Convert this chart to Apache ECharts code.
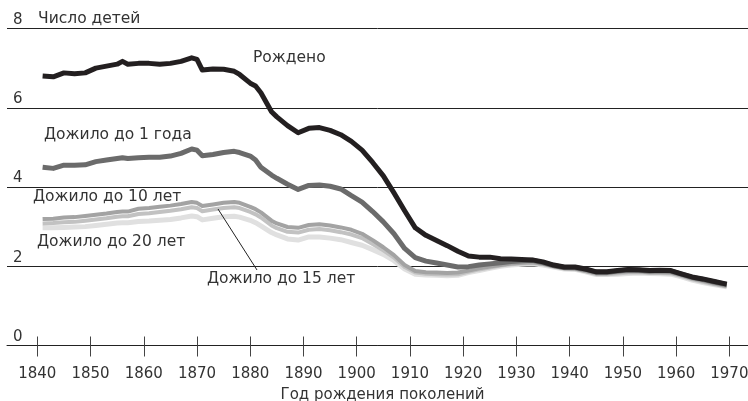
<!DOCTYPE html>
<html>
<head>
<meta charset="utf-8">
<script src="https://cdn.jsdelivr.net/npm/echarts@6/dist/echarts.min.js"></script>
<style>
html,body{margin:0;padding:0;background:#fff;}
#chart{width:748px;height:401px;}
</style>
</head>
<body>
<div id="chart"></div>
<script>
// ---- data ----
const years = [1841,1843,1845,1847,1849,1851,1853,1855,1856,1857,1859,1861,1863,1865,1867,1869,1870,1871,1873,1875,1877,1878,1880,1881,1882,1884,1885,1887,1889,1891,1893,1895,1897,1899,1901,1903,1905,1907,1909,1911,1913,1915,1917,1919,1921,1923,1925,1927,1929,1931,1933,1935,1937,1939,1941,1943,1945,1947,1949,1951,1953,1955,1957,1959,1961,1963,1965,1967,1969.5];

const born = [6.80,6.78,6.88,6.86,6.88,7.00,7.05,7.10,7.17,7.10,7.12,7.12,7.10,7.12,7.17,7.26,7.22,6.95,6.98,6.97,6.92,6.84,6.62,6.55,6.38,5.90,5.77,5.55,5.37,5.48,5.50,5.43,5.32,5.15,4.93,4.62,4.28,3.85,3.40,2.97,2.78,2.65,2.52,2.38,2.26,2.23,2.23,2.19,2.18,2.17,2.16,2.11,2.03,1.98,1.98,1.93,1.86,1.86,1.89,1.92,1.91,1.89,1.90,1.89,1.81,1.73,1.68,1.62,1.55];

const age1 = [4.50,4.47,4.55,4.55,4.56,4.64,4.68,4.72,4.74,4.72,4.74,4.75,4.75,4.78,4.85,4.96,4.93,4.79,4.82,4.87,4.90,4.87,4.78,4.68,4.50,4.30,4.22,4.07,3.94,4.04,4.05,4.02,3.95,3.78,3.62,3.38,3.12,2.82,2.45,2.22,2.13,2.08,2.03,1.98,1.99,2.03,2.06,2.09,2.12,2.14,2.15,2.09,2.02,1.97,1.97,1.92,1.85,1.85,1.88,1.91,1.90,1.88,1.89,1.88,1.80,1.72,1.67,1.61,1.54];

const age10 = [3.19,3.20,3.23,3.24,3.27,3.30,3.33,3.37,3.38,3.38,3.45,3.47,3.50,3.53,3.57,3.62,3.60,3.52,3.56,3.60,3.62,3.60,3.50,3.44,3.36,3.15,3.08,2.99,2.97,3.04,3.06,3.03,2.98,2.92,2.82,2.66,2.48,2.28,2.03,1.88,1.85,1.84,1.83,1.84,1.89,1.95,1.99,2.03,2.07,2.09,2.10,2.06,2.00,1.95,1.94,1.88,1.82,1.82,1.85,1.87,1.87,1.85,1.85,1.84,1.77,1.69,1.63,1.57,1.50];

const age15 = [3.08,3.09,3.11,3.12,3.15,3.18,3.21,3.25,3.26,3.26,3.32,3.34,3.37,3.40,3.44,3.49,3.47,3.39,3.43,3.47,3.49,3.47,3.37,3.31,3.23,3.03,2.96,2.87,2.85,2.92,2.94,2.91,2.86,2.80,2.71,2.56,2.40,2.22,1.98,1.84,1.81,1.80,1.79,1.80,1.86,1.92,1.97,2.02,2.05,2.07,2.08,2.05,1.99,1.94,1.93,1.87,1.80,1.80,1.82,1.84,1.85,1.83,1.83,1.82,1.75,1.67,1.61,1.55,1.49];

const age20 = [2.97,2.97,2.98,2.99,3.00,3.03,3.06,3.09,3.10,3.10,3.13,3.14,3.16,3.18,3.22,3.27,3.25,3.17,3.21,3.25,3.26,3.24,3.16,3.10,3.02,2.85,2.79,2.69,2.66,2.74,2.74,2.71,2.67,2.60,2.53,2.42,2.30,2.14,1.93,1.80,1.78,1.77,1.76,1.77,1.84,1.89,1.95,2.00,2.03,2.05,2.06,2.03,1.98,1.93,1.92,1.86,1.79,1.79,1.80,1.82,1.83,1.82,1.81,1.80,1.73,1.65,1.59,1.54,1.48];

const xTicks = [1840,1850,1860,1870,1880,1890,1900,1910,1920,1930,1940,1950,1960,1970];
const yTicks = [0,2,4,6,8];
const seriesNames = ['Рождено','Дожило до 1 года','Дожило до 10 лет','Дожило до 15 лет','Дожило до 20 лет'];
const yTitle = 'Число детей';
const xTitle = 'Год рождения поколений';

// ---- chart ----
const FONT = '"DejaVu Sans", sans-serif';
const TXT = '#333333';
const pairs = arr => years.map((y, i) => [y, arr[i]]);
const AFONT = '15.5px ' + FONT;

const chart = echarts.init(document.getElementById('chart'), null, {renderer: 'canvas'});

function line(name, data, color, width, z) {
  return {
    name, type: 'line', data: pairs(data), showSymbol: false, symbol: 'none',
    lineStyle: {color, width, join: 'round', cap: 'butt'}, z, silent: true, animation: false
  };
}

const xCommon = {
  type: 'value', min: 1834.31, max: 1973.5, gridIndex: 0, position: 'bottom',
  splitLine: {show: false}
};

chart.setOption({
  animation: false,
  grid: {left: 7, right: 0, top: 28.5, bottom: 55.5, containLabel: false, outerBoundsMode: 'none'},
  xAxis: [
    Object.assign({}, xCommon, {
      axisLine: {show: true, lineStyle: {color: '#222', width: 1}},
      axisTick: {show: true, inside: false, length: 11, customValues: xTicks, lineStyle: {color: '#444', width: 1}},
      axisLabel: {show: true, customValues: xTicks, margin: 21, color: TXT, fontFamily: FONT, fontSize: 15,
        formatter: v => String(Math.round(v))},
      name: xTitle, nameLocation: 'middle', nameGap: 42,
      nameTextStyle: {color: TXT, fontFamily: FONT, fontSize: 15, padding: [0, 0, 0, 10]}
    }),
    Object.assign({}, xCommon, {
      axisLine: {show: false},
      axisTick: {show: true, inside: true, length: 9, customValues: xTicks, lineStyle: {color: '#444', width: 1}},
      axisLabel: {show: false}
    })
  ],
  yAxis: {
    type: 'value', min: 0, max: 8, interval: 2,
    axisLine: {show: false}, axisTick: {show: false},
    splitLine: {show: true, lineStyle: {color: '#222', width: 1}},
    axisLabel: {inside: true, align: 'left', verticalAlign: 'bottom', margin: 6, padding: [0, 0, 1, 0],
      color: TXT, fontFamily: FONT, fontSize: 15}
  },
  series: [
    line(seriesNames[4], age20, '#e0e0e0', 5, 2),
    line(seriesNames[3], age15, '#c2c2c2', 4, 3),
    line(seriesNames[2], age10, '#a3a3a3', 4, 4),
    line(seriesNames[1], age1, '#6b6b6b', 5, 5),
    line(seriesNames[0], born, '#231f20', 5, 6)
  ],
  graphic: [
    {type: 'text', x: 38, y: 19, style: {text: yTitle, font: AFONT, fill: TXT, verticalAlign: 'middle'}},
    {type: 'text', x: 253, y: 58, style: {text: seriesNames[0], font: AFONT, fill: TXT, verticalAlign: 'middle'}},
    {type: 'text', x: 44, y: 135, style: {text: seriesNames[1], font: AFONT, fill: TXT, verticalAlign: 'middle'}},
    {type: 'text', x: 33, y: 197, style: {text: seriesNames[2], font: AFONT, fill: TXT, verticalAlign: 'middle'}},
    {type: 'text', x: 37, y: 242, style: {text: seriesNames[4], font: AFONT, fill: TXT, verticalAlign: 'middle'}},
    {type: 'text', x: 207, y: 279, style: {text: seriesNames[3], font: AFONT, fill: TXT, verticalAlign: 'middle'}},
    {type: 'line', shape: {x1: 218, y1: 209, x2: 257, y2: 270}, style: {stroke: '#222', lineWidth: 1}, z: 100}
  ]
});
</script>
</body>
</html>
